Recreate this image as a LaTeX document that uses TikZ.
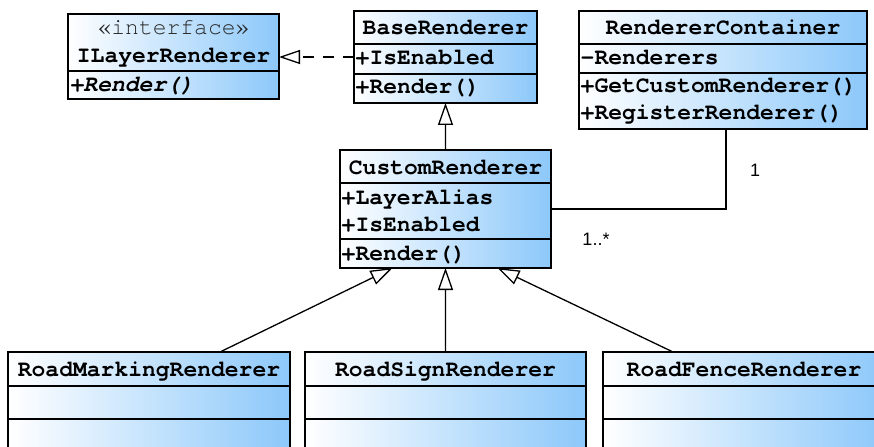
\documentclass[tikz,border=0pt]{standalone}
\usepackage{fontspec}
\setmainfont{Liberation Sans}
\setmonofont{texgyrecursor}[Extension=.otf, UprightFont=*-regular, BoldFont=*-bold, ItalicFont=*-italic, BoldItalicFont=*-bolditalic]
\usetikzlibrary{arrows.meta}
\definecolor{cblue}{RGB}{140,200,250}
\tikzset{
  classbox/.style={draw=black, line width=1.3bp, left color=white, right color=cblue,
    inner sep=0pt, outer sep=0pt, anchor=north west},
  divider/.style={draw=black, line width=1.3bp},
  ctitle/.style={anchor=base, inner sep=0pt, font=\fontsize{23bp}{28bp}\selectfont\ttfamily\bfseries},
  cattr/.style={anchor=base west, inner sep=0pt, font=\fontsize{23bp}{28bp}\selectfont\ttfamily\bfseries},
  stereo/.style={anchor=base, inner sep=0pt, text=black!85, font=\fontsize{23bp}{28bp}\selectfont\ttfamily},
  mult/.style={anchor=base, inner sep=0pt, font=\fontsize{18bp}{20bp}\selectfont},
  conn/.style={draw=black, line width=1.3bp},
  gen/.style={conn, -{Triangle[open, length=22bp, width=15bp]}},
  real/.style={conn, dash pattern=on 11bp off 9bp, -{Triangle[open, length=21bp, width=14bp]}},
}
\begin{document}
\begin{tikzpicture}[x=1bp, y=-1bp]
\useasboundingbox (0,0) rectangle (874,447);
\clip (0,0) rectangle (874,447);

% ILayerRenderer
\node[classbox, minimum width=211bp, minimum height=85bp] (il) at (68,14) {};
\draw[divider] (il.west |- 0,71) -- (il.east |- 0,71);
\node[stereo] (ilst) at (173.5,35) {«interface»};
\node[ctitle] (ilt) at (173.5,63) {ILayerRenderer};
\node[cattr] (ilm) at (69.5,92) {\itshape +Render()};

% BaseRenderer
\node[classbox, minimum width=183bp, minimum height=92bp] (base) at (354,11) {};
\draw[divider] (base.west |- 0,44) -- (base.east |- 0,44);
\draw[divider] (base.west |- 0,74) -- (base.east |- 0,74);
\node[ctitle] (bt) at (445.5,35) {BaseRenderer};
\node[cattr] (ba) at (355.5,65) {+IsEnabled};
\node[cattr] (bm) at (355.5,94) {+Render()};

% RendererContainer
\node[classbox, minimum width=288bp, minimum height=118bp] (rc) at (579,11) {};
\draw[divider] (rc.west |- 0,44) -- (rc.east |- 0,44);
\draw[divider] (rc.west |- 0,73) -- (rc.east |- 0,73);
\node[ctitle] (rct) at (723,35) {RendererContainer};
\node[cattr] (rca) at (580.5,65) {-Renderers};
\node[cattr] (rcm1) at (580.5,93) {+GetCustomRenderer()};
\node[cattr] (rcm2) at (580.5,120) {+RegisterRenderer()};

% CustomRenderer
\node[classbox, minimum width=211bp, minimum height=118bp] (cu) at (340,150) {};
\draw[divider] (cu.west |- 0,183) -- (cu.east |- 0,183);
\draw[divider] (cu.west |- 0,239) -- (cu.east |- 0,239);
\node[ctitle] (cut) at (445.5,175) {CustomRenderer};
\node[cattr] (cua1) at (341.5,205) {+LayerAlias};
\node[cattr] (cua2) at (341.5,232) {+IsEnabled};
\node[cattr] (cum) at (341.5,261) {+Render()};

% Bottom classes
\node[classbox, minimum width=282bp, minimum height=110bp] (rm) at (8,352) {};
\draw[divider] (rm.west |- 0,386) -- (rm.east |- 0,386);
\draw[divider] (rm.west |- 0,419) -- (rm.east |- 0,419);
\node[ctitle] (rmt) at (149,377) {RoadMarkingRenderer};

\node[classbox, minimum width=281bp, minimum height=110bp] (rs) at (305,352) {};
\draw[divider] (rs.west |- 0,386) -- (rs.east |- 0,386);
\draw[divider] (rs.west |- 0,419) -- (rs.east |- 0,419);
\node[ctitle] (rst) at (445.5,377) {RoadSignRenderer};

\node[classbox, minimum width=282bp, minimum height=110bp] (rf) at (603,352) {};
\draw[divider] (rf.west |- 0,386) -- (rf.east |- 0,386);
\draw[divider] (rf.west |- 0,419) -- (rf.east |- 0,419);
\node[ctitle] (rft) at (744,377) {RoadFenceRenderer};

% Connectors
\draw[real] (base.west |- 0,57) -- (il.east |- 0,57);
\draw[gen] (cu.north) -- (base.south);
\draw[gen] ([xshift=71bp]rm.north) -- ([xshift=-53bp]cu.south);
\draw[gen] (rs.north) -- (cu.south);
\draw[gen] ([xshift=-71bp]rf.north) -- ([xshift=52bp]cu.south);
\draw[conn] ([xshift=3bp]rc.south) |- (cu.east);
\node[mult] (m1) at (755,177) {1};
\node[mult] (m2) at (596,246) {1..*};
\end{tikzpicture}
\end{document}
